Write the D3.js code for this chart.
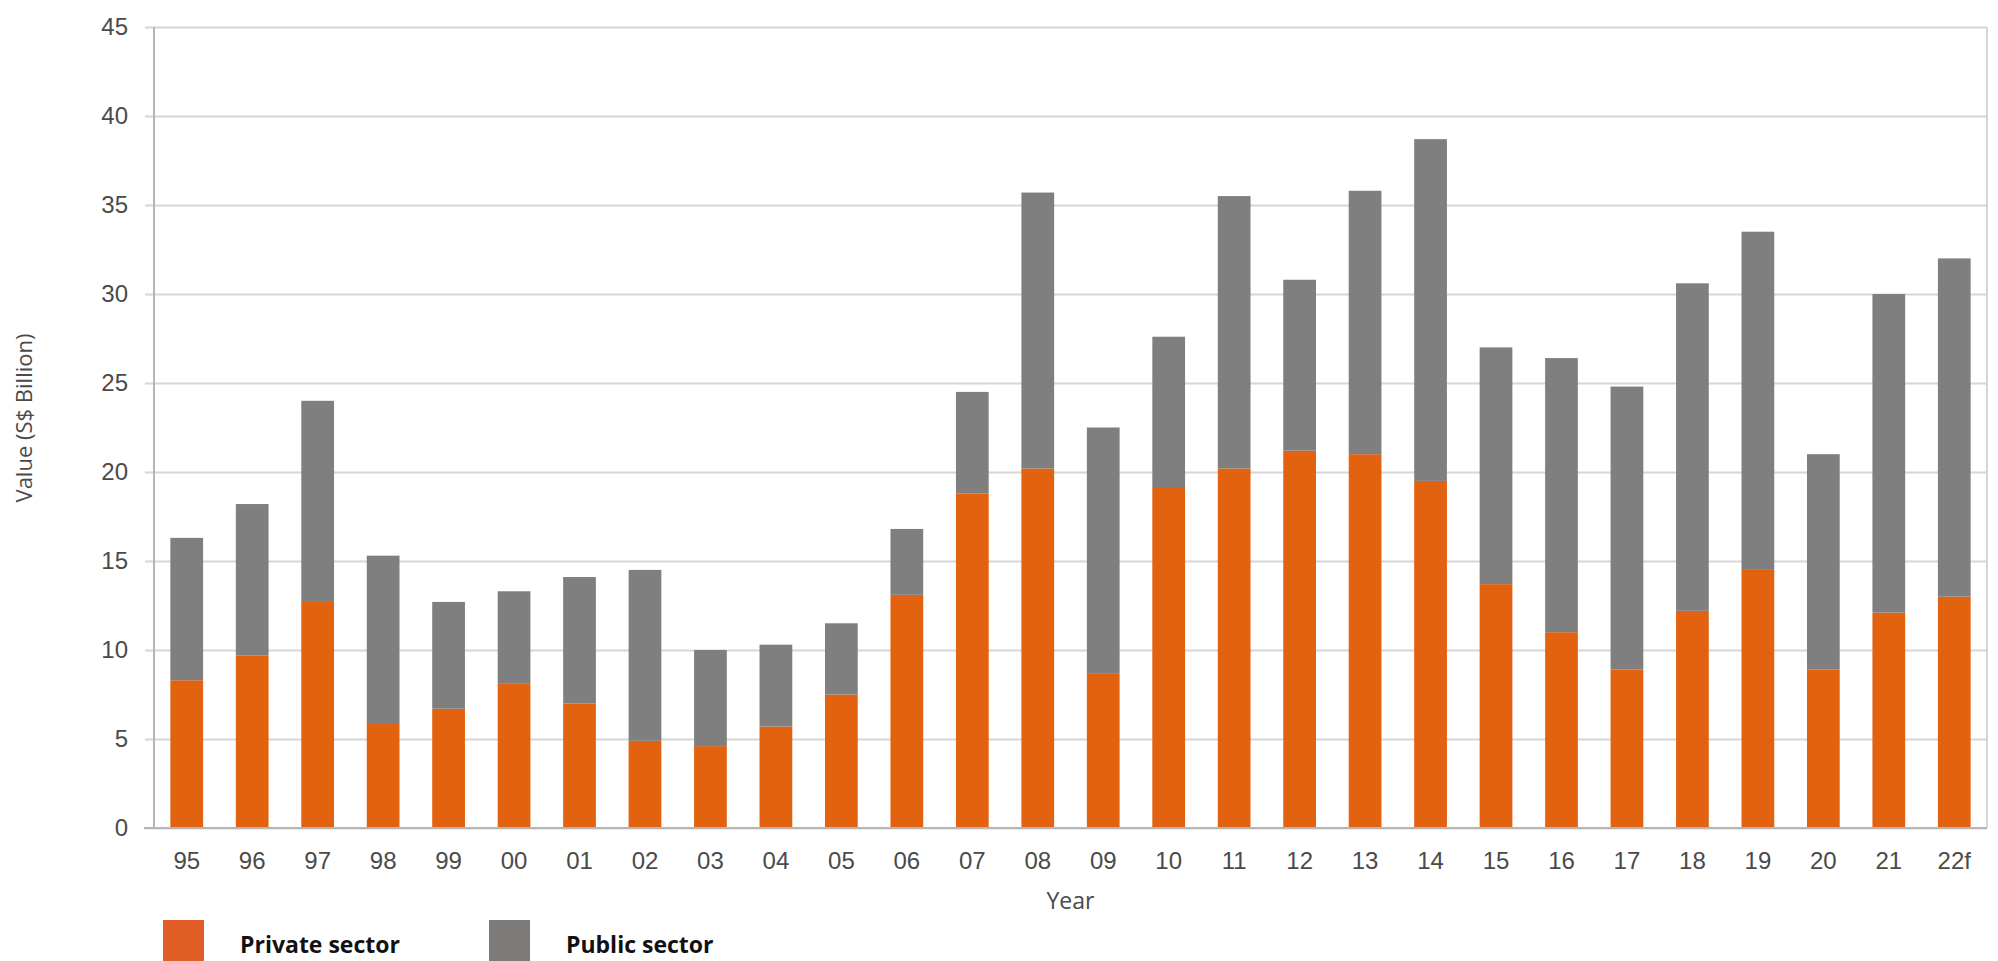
<!DOCTYPE html>
<html>
<head>
<meta charset="utf-8">
<script src="https://cdn.jsdelivr.net/npm/d3@7"></script>
<style>
  html, body { margin: 0; padding: 0; background: #fff; }
  svg { display: block; font-family: "Open Sans", "Noto Sans", sans-serif; }
</style>
</head>
<body>
<svg id="chart" width="1998" height="961"></svg>
<script>
const years = ["95","96","97","98","99","00","01","02","03","04","05","06","07","08","09","10","11","12","13","14","15","16","17","18","19","20","21","22f"];
const privateSector = [8.3, 9.7, 12.7, 5.9, 6.7, 8.1, 7.0, 4.9, 4.6, 5.7, 7.5, 13.1, 18.8, 20.2, 8.7, 19.1, 20.2, 21.2, 21.0, 19.5, 13.7, 11.0, 8.9, 12.2, 14.5, 8.9, 12.1, 13.0];
const publicSector = [8.0, 8.5, 11.3, 9.4, 6.0, 5.2, 7.1, 9.6, 5.4, 4.6, 4.0, 3.7, 5.7, 15.5, 13.8, 8.5, 15.3, 9.6, 14.8, 19.2, 13.3, 15.4, 15.9, 18.4, 19.0, 12.1, 17.9, 19.0];
const yTicks = [0, 5, 10, 15, 20, 25, 30, 35, 40, 45];
const seriesNames = ["Private sector", "Public sector"];

let orange = "#E2620F";
let grey = "#7F7F7F";
let gridColor = "#D6D6D6";
let axisColor = "#B5B5B5";
let tickText = "#4A4A4A";

const margin = {top: 27, right: 11, bottom: 133, left: 154};
const width = 1998, height = 961;
const boundedWidth = width - margin.left - margin.right;
const boundedHeight = height - margin.top - margin.bottom;

const svg = d3.select("#chart");
const g = svg.append("g")
    .attr("transform", `translate(${margin.left}, ${margin.top})`);

const data = years.map((y, i) => ({year: y, private: privateSector[i], public: publicSector[i]}));
const stacked = d3.stack().keys(["private", "public"])(data);

const xScale = d3.scaleBand()
    .domain(years)
    .range([0, boundedWidth])
    .paddingInner(0.5)
    .paddingOuter(0.25);

const yScale = d3.scaleLinear()
    .domain([0, 45])
    .range([boundedHeight, 0]);

// grid + y axis
const yAxis = d3.axisLeft(yScale)
    .tickValues(yTicks)
    .tickSize(-boundedWidth - 9)
    .tickFormat(d3.format("d"));

g.append("g")
    .attr("class", "yaxis")
    .call(yAxis)
    .call(s => s.select(".domain").remove());

g.selectAll(".yaxis .tick line")
    .attr("x1", -9)
    .attr("x2", boundedWidth)
    .style("stroke", gridColor)
    .style("stroke-width", 2);

g.selectAll(".yaxis .tick text")
    .attr("x", -26)
    .style("fill", tickText)
    .style("font-size", "24px");

// left & right borders
g.append("line")
    .attr("x1", 0).attr("x2", 0)
    .attr("y1", 0).attr("y2", boundedHeight)
    .style("stroke", axisColor).style("stroke-width", 2);

g.append("line")
    .attr("x1", boundedWidth).attr("x2", boundedWidth)
    .attr("y1", 0).attr("y2", boundedHeight)
    .style("stroke", gridColor).style("stroke-width", 2);

// bars
const colors = [orange, grey];
g.selectAll(".layer")
    .data(stacked)
    .enter()
    .append("g")
    .attr("class", "layer")
    .style("fill", (d, i) => colors[i])
    .selectAll("rect")
    .data(d => d)
    .enter()
    .append("rect")
    .attr("x", d => xScale(d.data.year))
    .attr("width", xScale.bandwidth())
    .attr("y", d => yScale(d[1]))
    .attr("height", d => yScale(d[0]) - yScale(d[1]));

// baseline
g.append("line")
    .attr("x1", -10).attr("x2", boundedWidth)
    .attr("y1", boundedHeight).attr("y2", boundedHeight)
    .style("stroke", axisColor).style("stroke-width", 2);

// x axis
const xAxis = d3.axisBottom(xScale).tickSize(0).tickPadding(24);
g.append("g")
    .attr("class", "xaxis")
    .attr("transform", `translate(0, ${boundedHeight})`)
    .call(xAxis)
    .call(s => s.select(".domain").remove());

g.selectAll(".xaxis .tick text")
    .style("fill", tickText)
    .style("font-size", "24px");

// axis titles
g.append("text")
    .attr("x", boundedWidth / 2)
    .attr("y", boundedHeight + 81)
    .attr("text-anchor", "middle")
    .style("fill", tickText)
    .style("font-size", "23px")
    .text("Year");

svg.append("text")
    .attr("transform", `translate(32, 418) rotate(-90)`)
    .attr("text-anchor", "middle")
    .style("fill", tickText)
    .style("font-size", "22px")
    .text("Value (S$ Billion)");

// legend
const legendColors = ["#E05E26", "#7C7B7A"];
const legendX = [163, 489];
const legend = svg.selectAll(".legend")
    .data(seriesNames)
    .enter()
    .append("g")
    .attr("class", "legend")
    .attr("transform", (d, i) => `translate(${legendX[i]}, 920)`);

legend.append("rect")
    .attr("width", 41)
    .attr("height", 45)
    .style("fill", (d, i) => legendColors[i]);

legend.append("text")
    .attr("x", 77)
    .attr("y", 33)
    .style("font-size", "23px")
    .style("font-weight", "bold")
    .style("fill", "#111")
    .text(d => d);
</script>
</body>
</html>
